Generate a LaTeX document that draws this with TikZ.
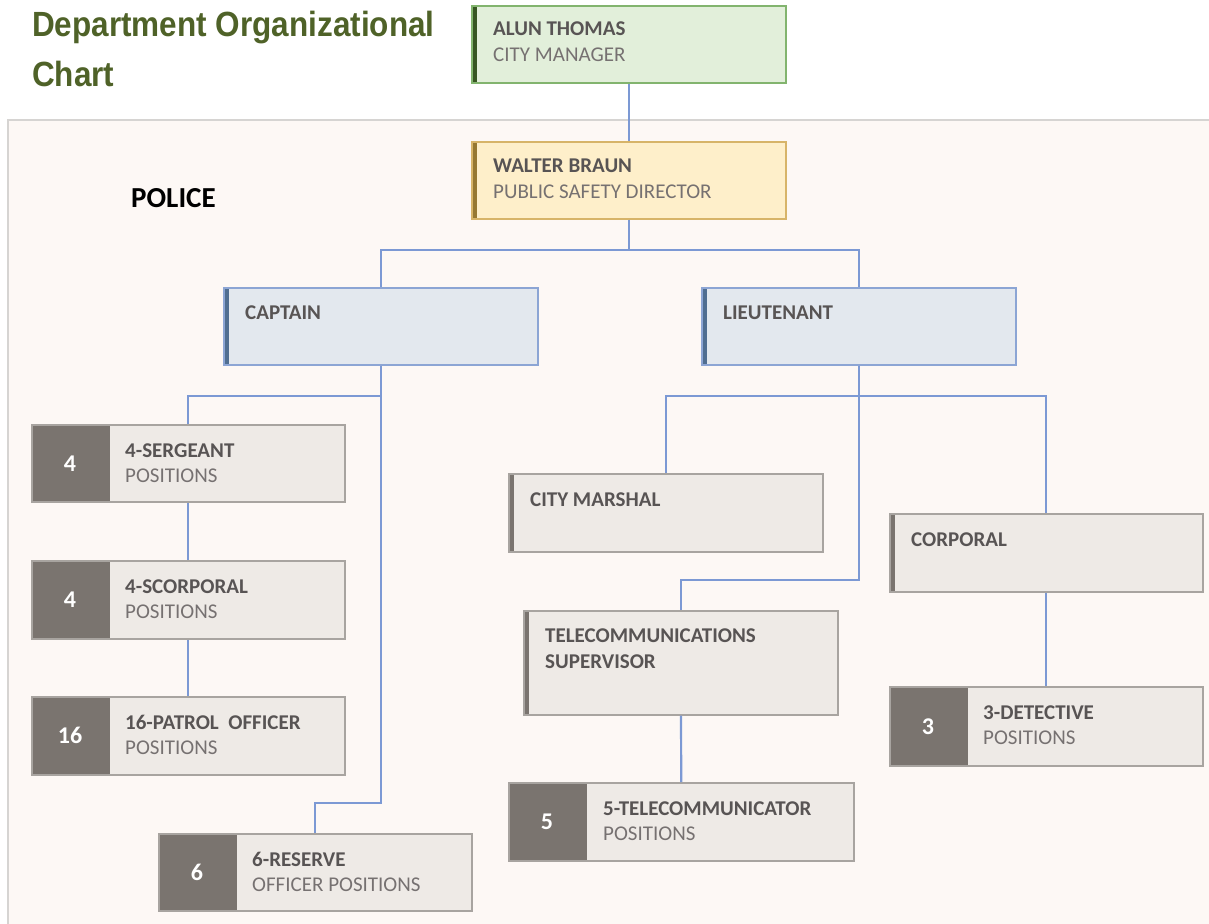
\documentclass[tikz,border=0pt]{standalone}
\usepackage{fontspec}
\setmainfont{Carlito}
\newfontfamily\titlefont[FakeStretch=0.9]{Liberation Sans}

\definecolor{titlegreen}{RGB}{79,98,40}
\definecolor{linkblue}{RGB}{124,153,212}
\definecolor{deptfill}{RGB}{253,248,245}
\definecolor{deptline}{RGB}{214,212,210}
\definecolor{mgrfill}{RGB}{226,239,218}
\definecolor{mgrline}{RGB}{130,180,110}
\definecolor{mgrbar}{RGB}{55,86,35}
\definecolor{dirfill}{RGB}{254,239,202}
\definecolor{dirline}{RGB}{215,180,105}
\definecolor{dirbar}{RGB}{150,120,50}
\definecolor{rankfill}{RGB}{227,232,238}
\definecolor{rankline}{RGB}{140,165,212}
\definecolor{rankbar}{RGB}{80,110,145}
\definecolor{postfill}{RGB}{238,234,230}
\definecolor{postline}{RGB}{168,164,160}
\definecolor{postbar}{RGB}{122,116,111}
\definecolor{headgray}{RGB}{88,84,84}
\definecolor{subgray}{RGB}{118,113,113}

\begin{document}
\begin{tikzpicture}[
  x=1pt, y=-1pt,
  link/.style={draw=linkblue, line width=2.2pt},
  card/.style={draw, line width=1.7pt, anchor=north west, inner sep=0pt,
    minimum width=314pt, minimum height=77pt},
  bar/.style={path picture={\fill[#1] (path picture bounding box.north west)
    rectangle ([xshift=5pt]path picture bounding box.south west);}},
  tally/.style={path picture={\fill[postbar] (path picture bounding box.north west)
    rectangle ([xshift=78pt]path picture bounding box.south west);}},
  mgr/.style={card, fill=mgrfill, draw=mgrline, bar=mgrbar},
  dir/.style={card, fill=dirfill, draw=dirline, bar=dirbar},
  rank/.style={card, fill=rankfill, draw=rankline, bar=rankbar},
  post/.style={card, fill=postfill, draw=postline, bar=postbar},
  count/.style={card, fill=postfill, draw=postline, tally},
  head/.style={anchor=base west, inner sep=0pt, text=headgray,
    font=\bfseries\fontsize{21}{25}\selectfont},
  sub/.style={anchor=base west, inner sep=0pt, text=subgray,
    font=\fontsize{21}{25}\selectfont},
  num/.style={text=white, font=\bfseries\fontsize{24}{28}\selectfont},
  heading/.style={anchor=base west, inner sep=0pt, text=titlegreen,
    font=\titlefont\bfseries\fontsize{35}{40}\selectfont}
]
  \useasboundingbox (0,0) rectangle (1209,923);

  % police department frame
  \filldraw[fill=deptfill, draw=deptline, line width=1.5pt] (8,120) rectangle (1215,930);

  % titles
  \node[heading] (title1) at (32,37) {Department Organizational};
  \node[heading] (title2) at (32,87) {Chart};
  \node[anchor=base west, inner sep=0pt, font=\bfseries\fontsize{29}{33}\selectfont] (police) at (131,207) {POLICE};

  % top of the chain
  \node[mgr] (mgr) at (471,5) {};
  \node[head] (mgrA) at ([shift={(22,31)}]mgr.north west) {ALUN THOMAS};
  \node[sub] (mgrB) at ([shift={(22,57)}]mgr.north west) {CITY MANAGER};

  \node[dir] (dir) at (471,141) {};
  \node[head] (dirA) at ([shift={(22,31)}]dir.north west) {WALTER BRAUN};
  \node[sub] (dirB) at ([shift={(22,57)}]dir.north west) {PUBLIC SAFETY DIRECTOR};

  \node[rank] (cap) at (223,287) {};
  \node[head] (capA) at ([shift={(22,32)}]cap.north west) {CAPTAIN};
  \node[rank] (lt) at (701,287) {};
  \node[head] (ltA) at ([shift={(22,32)}]lt.north west) {LIEUTENANT};

  % captain's side
  \node[count, minimum width=313pt] (sgt) at (31,424) {};
  \node[num] (sgtN) at ([xshift=39pt]sgt.west) {4};
  \node[head] (sgtA) at ([shift={(94,33)}]sgt.north west) {4-SERGEANT};
  \node[sub] (sgtB) at ([shift={(94,58)}]sgt.north west) {POSITIONS};

  \node[count, minimum width=313pt, minimum height=78pt] (scp) at (31,560) {};
  \node[num] (scpN) at ([xshift=39pt]scp.west) {4};
  \node[head] (scpA) at ([shift={(94,33)}]scp.north west) {4-SCORPORAL};
  \node[sub] (scpB) at ([shift={(94,58)}]scp.north west) {POSITIONS};

  \node[count, minimum width=313pt, minimum height=78pt] (pat) at (31,696) {};
  \node[num] (patN) at ([xshift=39pt]pat.west) {16};
  \node[head] (patA) at ([shift={(94,33)}]pat.north west) {16-PATROL\ \ OFFICER};
  \node[sub] (patB) at ([shift={(94,58)}]pat.north west) {POSITIONS};

  \node[count, minimum width=313pt] (res) at (158,833) {};
  \node[num] (resN) at ([xshift=39pt]res.west) {6};
  \node[head] (resA) at ([shift={(94,33)}]res.north west) {6-RESERVE};
  \node[sub] (resB) at ([shift={(94,58)}]res.north west) {OFFICER POSITIONS};

  % lieutenant's side
  \node[post, minimum height=78pt] (msh) at (508,473) {};
  \node[head] (mshA) at ([shift={(22,33)}]msh.north west) {CITY MARSHAL};

  \node[post, minimum width=313pt, minimum height=78pt] (cpl) at (889,513) {};
  \node[head] (cplA) at ([shift={(22,33)}]cpl.north west) {CORPORAL};

  \node[post, minimum height=104pt] (tsup) at (523,610) {};
  \node[head] (tsupA) at ([shift={(22,32)}]tsup.north west) {TELECOMMUNICATIONS};
  \node[head] (tsupB) at ([shift={(22,58)}]tsup.north west) {SUPERVISOR};

  \node[count, minimum width=345pt, minimum height=78pt] (tcom) at (508,782) {};
  \node[num] (tcomN) at ([xshift=39pt]tcom.west) {5};
  \node[head] (tcomA) at ([shift={(95,33)}]tcom.north west) {5-TELECOMMUNICATOR};
  \node[sub] (tcomB) at ([shift={(95,58)}]tcom.north west) {POSITIONS};

  \node[count, minimum width=313pt, minimum height=79pt] (det) at (889,686) {};
  \node[num] (detN) at ([xshift=39pt]det.west) {3};
  \node[head] (detA) at ([shift={(94,33)}]det.north west) {3-DETECTIVE};
  \node[sub] (detB) at ([shift={(94,58)}]det.north west) {POSITIONS};

  % reporting lines
  \draw[link] (mgr) -- (dir);
  \draw[link] (dir.south) -- ++(0,30) -| (cap.north);
  \draw[link] (dir.south) -- ++(0,30) -| (lt.north);
  \draw[link] (cap.south) -- ++(0,30) -| (sgt.north);
  \draw[link] (cap.south) |- ([yshift=30pt]res.north) -- (res.north);
  \draw[link] (sgt) -- (scp);
  \draw[link] (scp) -- (pat);
  \draw[link] (lt.south) -- ++(0,30) -| (msh.north);
  \draw[link] (lt.south) -- ++(0,30) -| (cpl.north);
  \draw[link] (lt.south) |- ([yshift=30pt]tsup.north) -- (tsup.north);
  \draw[link] (tsup) -- (tcom);
  \draw[link] (cpl) -- (det);
\end{tikzpicture}
\end{document}
